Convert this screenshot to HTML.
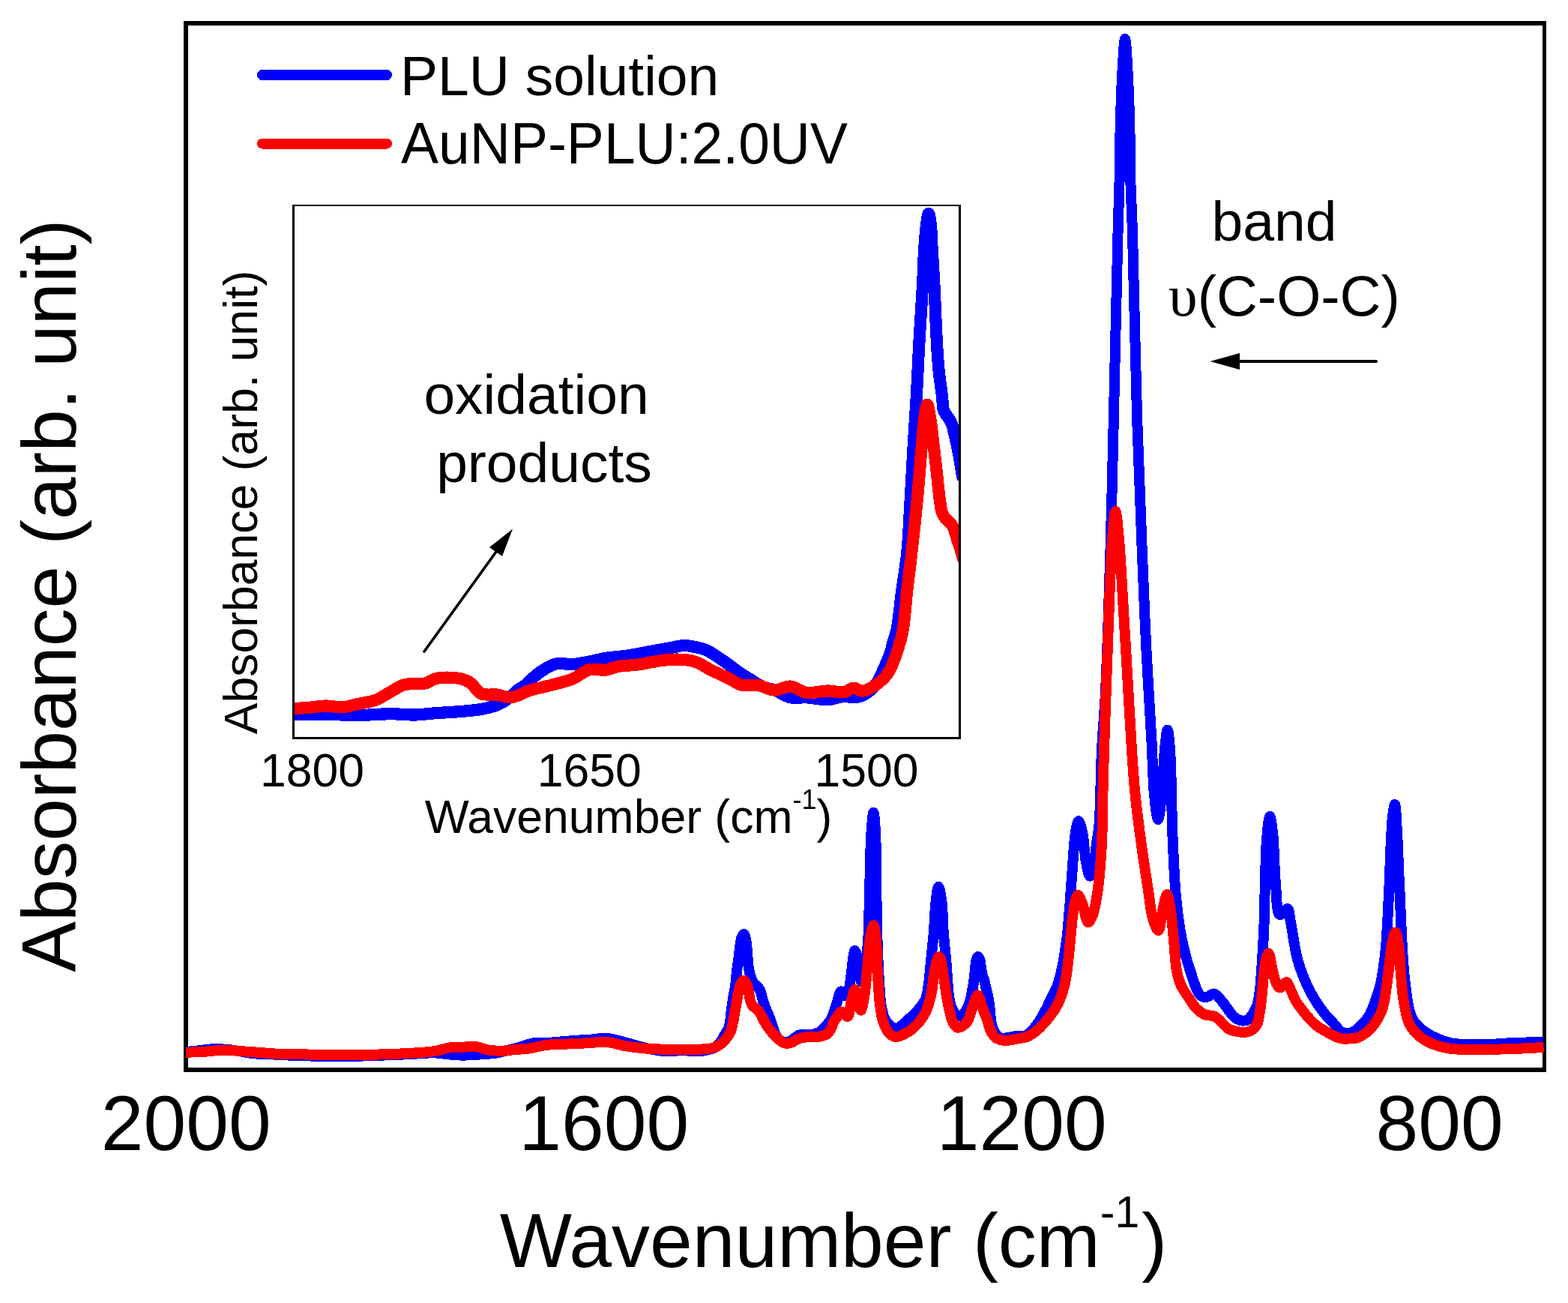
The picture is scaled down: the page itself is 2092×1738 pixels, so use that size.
<!DOCTYPE html>
<html><head><meta charset="utf-8"><title>FTIR</title>
<style>
html,body{margin:0;padding:0;background:#fff;}
svg{display:block;}
text{font-family:"Liberation Sans",Arial,sans-serif;fill:#000;}
</style></head>
<body>
<svg width="2092" height="1738" viewBox="0 0 2092 1738">
<rect x="0" y="0" width="2092" height="1738" fill="#fff"/>
<!-- main frame -->
<g stroke="#000" fill="none"><line x1="245" y1="31" x2="2063" y2="31" stroke-width="6"/><line x1="245" y1="1427" x2="2063" y2="1427" stroke-width="6"/><line x1="248" y1="28" x2="248" y2="1430" stroke-width="6"/><line x1="2060.5" y1="28" x2="2060.5" y2="1430" stroke-width="5"/></g>
<svg x="248" y="0" width="1813" height="1738" viewBox="248 0 1813 1738" overflow="hidden"><g fill="none" stroke-linejoin="round" stroke-linecap="butt" shape-rendering="crispEdges"><path d="M248.0,1403.0 C252.2,1402.6 255.6,1402.4 260.5,1401.9 C267.4,1401.2 277.2,1399.4 285.6,1399.2 C293.9,1399.0 302.3,1399.7 310.6,1400.7 C319.0,1401.7 327.3,1404.1 335.7,1405.0 C344.0,1405.9 352.4,1405.9 360.7,1406.3 C369.1,1406.7 377.4,1407.2 385.8,1407.6 C394.1,1407.9 402.5,1408.1 410.8,1408.4 C419.2,1408.7 427.5,1409.0 435.9,1409.2 C444.2,1409.4 452.6,1409.5 460.9,1409.4 C469.3,1409.3 477.7,1408.7 486.0,1408.4 C494.1,1408.1 501.4,1407.9 510.0,1407.6 C520.0,1407.2 531.4,1406.8 542.6,1406.3 C554.7,1405.8 569.6,1404.1 580.1,1404.4 C587.8,1404.6 593.6,1406.0 600.0,1406.5 C606.1,1407.0 611.3,1407.6 617.7,1407.6 C625.3,1407.6 635.1,1406.8 642.8,1406.3 C649.5,1405.8 655.9,1405.6 661.5,1404.7 C666.1,1404.0 669.4,1402.8 674.0,1401.7 C679.7,1400.3 686.6,1398.6 692.9,1396.9 C699.2,1395.2 705.3,1392.3 711.6,1391.3 C717.8,1390.3 723.7,1391.3 730.4,1390.9 C738.2,1390.5 748.7,1389.3 755.5,1388.8 C760.1,1388.4 762.7,1388.2 767.0,1387.9 C772.3,1387.5 778.5,1387.3 785.0,1386.9 C792.7,1386.4 801.8,1384.4 810.1,1385.0 C818.5,1385.6 826.8,1388.6 835.1,1390.7 C843.5,1392.8 851.8,1395.7 860.2,1397.6 C868.5,1399.5 876.8,1401.4 885.2,1402.0 C893.5,1402.6 901.9,1401.3 910.3,1401.3 C918.6,1401.3 928.4,1402.6 935.3,1402.0 C940.2,1401.6 944.5,1400.4 947.9,1399.4 C950.4,1398.7 952.1,1398.3 954.1,1397.0 C956.5,1395.4 958.9,1392.7 961.0,1390.0 C963.3,1387.1 965.1,1383.4 967.0,1380.0 C968.9,1376.7 971.1,1374.2 972.5,1370.0 C974.6,1363.8 974.9,1353.2 976.0,1345.8 C976.9,1339.6 977.6,1334.0 978.5,1328.7 C979.3,1324.0 980.3,1320.4 981.0,1315.6 C981.9,1309.6 982.3,1301.6 983.0,1295.5 C983.6,1290.4 984.4,1286.3 985.0,1281.4 C985.7,1276.0 986.2,1269.7 987.0,1264.3 C987.7,1259.4 988.2,1253.8 989.5,1250.5 C990.3,1248.5 991.6,1245.9 992.5,1246.0 C993.7,1246.2 994.8,1251.6 995.5,1255.0 C996.4,1259.3 996.5,1264.8 997.0,1270.0 C997.5,1275.7 997.7,1282.5 998.5,1288.0 C999.1,1292.7 999.7,1296.8 1001.0,1301.0 C1002.3,1305.1 1004.3,1310.6 1006.3,1312.8 C1007.5,1314.1 1008.8,1313.8 1010.0,1315.0 C1011.8,1316.8 1014.0,1320.5 1015.1,1323.3 C1016.1,1325.7 1016.2,1328.1 1016.8,1330.5 C1017.5,1333.0 1018.1,1335.3 1019.0,1338.0 C1020.1,1341.2 1021.7,1345.0 1023.1,1348.4 C1024.4,1351.7 1025.8,1354.8 1027.1,1358.3 C1028.5,1362.1 1029.8,1366.7 1031.1,1370.3 C1032.2,1373.4 1033.0,1376.1 1034.3,1378.8 C1035.6,1381.4 1036.9,1384.2 1038.7,1386.0 C1040.2,1387.6 1042.0,1388.8 1044.0,1389.5 C1046.1,1390.2 1048.9,1390.3 1051.0,1390.0 C1052.8,1389.7 1054.2,1389.0 1056.0,1388.0 C1058.7,1386.5 1061.1,1382.5 1065.0,1381.0 C1070.3,1378.9 1080.5,1380.6 1086.0,1379.3 C1089.7,1378.4 1092.3,1377.3 1095.0,1375.5 C1097.7,1373.7 1099.9,1370.9 1102.0,1368.5 C1103.9,1366.4 1105.5,1364.3 1107.0,1362.0 C1108.5,1359.8 1109.7,1357.5 1110.8,1355.0 C1112.0,1352.2 1112.9,1349.2 1114.0,1346.0 C1115.2,1342.5 1116.4,1338.4 1117.4,1335.0 C1118.2,1332.1 1118.6,1329.2 1119.5,1327.0 C1120.2,1325.2 1120.9,1322.8 1122.0,1322.5 C1122.9,1322.2 1124.1,1323.2 1125.0,1324.0 C1126.0,1324.9 1126.5,1327.8 1127.5,1328.0 C1128.4,1328.2 1129.7,1327.1 1130.5,1326.0 C1131.8,1324.3 1132.3,1321.0 1133.0,1318.0 C1133.9,1314.2 1134.4,1309.6 1135.0,1305.0 C1135.7,1299.7 1136.3,1293.5 1137.0,1288.0 C1137.6,1282.8 1138.2,1276.6 1139.0,1273.0 C1139.5,1270.9 1139.9,1268.1 1140.5,1268.0 C1141.1,1268.0 1141.9,1270.2 1142.5,1272.0 C1143.5,1275.0 1144.1,1280.0 1145.0,1285.0 C1146.2,1291.8 1147.5,1308.9 1149.0,1309.0 C1150.4,1309.0 1152.2,1297.1 1153.5,1290.0 C1155.2,1281.1 1156.7,1272.3 1157.8,1259.9 C1159.5,1240.4 1159.4,1209.1 1160.2,1183.9 C1161.0,1159.1 1161.2,1128.3 1162.5,1110.0 C1163.3,1099.1 1164.5,1083.9 1165.4,1083.9 C1166.3,1083.9 1167.4,1099.1 1168.0,1110.0 C1169.1,1128.3 1168.8,1159.1 1169.2,1183.9 C1169.7,1209.1 1169.9,1236.4 1170.7,1259.9 C1171.4,1280.2 1172.3,1301.1 1173.5,1316.8 C1174.3,1327.9 1174.6,1337.1 1176.4,1345.3 C1177.8,1351.7 1179.4,1357.8 1182.0,1362.0 C1183.9,1365.1 1186.5,1367.3 1189.0,1369.0 C1191.3,1370.5 1193.6,1372.3 1196.3,1371.9 C1200.3,1371.3 1205.5,1365.3 1210.0,1361.4 C1214.9,1357.2 1220.4,1352.4 1224.6,1347.4 C1228.6,1342.7 1232.5,1338.2 1234.9,1332.6 C1237.5,1326.5 1237.9,1319.3 1239.0,1311.8 C1240.3,1303.3 1240.8,1294.3 1241.8,1284.2 C1243.0,1271.8 1244.7,1256.6 1245.9,1242.8 C1247.0,1229.0 1247.3,1212.4 1248.7,1201.4 C1249.6,1194.0 1250.8,1183.0 1252.1,1183.0 C1253.4,1183.0 1255.2,1194.0 1256.3,1201.4 C1257.9,1212.4 1257.7,1229.0 1258.7,1242.8 C1259.7,1256.6 1261.5,1271.8 1262.5,1284.2 C1263.3,1294.3 1263.8,1303.3 1264.5,1311.8 C1265.1,1319.2 1265.5,1326.6 1266.6,1332.6 C1267.5,1337.3 1268.4,1341.5 1270.0,1345.0 C1271.3,1347.9 1273.1,1350.7 1275.0,1352.5 C1276.5,1354.0 1278.3,1355.4 1280.0,1355.5 C1281.6,1355.6 1283.5,1354.3 1285.0,1353.0 C1286.9,1351.4 1288.6,1348.6 1290.0,1346.0 C1291.6,1343.0 1292.9,1339.7 1294.0,1336.0 C1295.3,1331.8 1296.1,1326.9 1297.0,1322.0 C1298.0,1316.6 1299.0,1310.4 1299.7,1305.0 C1300.3,1300.1 1300.6,1295.4 1301.1,1291.1 C1301.5,1287.5 1301.7,1283.7 1302.5,1281.0 C1303.0,1279.0 1303.8,1276.1 1304.6,1276.0 C1305.4,1275.9 1306.8,1279.0 1307.5,1281.0 C1308.4,1283.7 1308.5,1287.8 1309.0,1291.0 C1309.5,1294.1 1309.8,1297.2 1310.5,1300.0 C1311.2,1302.5 1312.3,1304.5 1313.0,1307.0 C1313.8,1309.8 1314.3,1312.9 1315.0,1316.0 C1315.8,1319.3 1316.7,1322.4 1317.5,1326.0 C1318.4,1330.2 1319.4,1335.0 1320.0,1339.5 C1320.6,1344.0 1320.8,1348.5 1321.3,1353.0 C1321.8,1357.4 1322.1,1362.1 1323.0,1366.0 C1323.8,1369.3 1324.6,1372.3 1326.0,1375.0 C1327.3,1377.6 1329.0,1380.2 1331.0,1382.0 C1332.8,1383.6 1335.1,1385.2 1337.0,1385.5 C1338.4,1385.7 1339.2,1385.0 1341.0,1384.7 C1344.4,1384.1 1351.1,1382.7 1356.0,1382.0 C1360.7,1381.3 1365.6,1382.7 1370.0,1380.5 C1375.5,1377.8 1381.0,1369.8 1385.0,1364.5 C1388.4,1360.0 1390.3,1355.9 1393.0,1351.0 C1396.0,1345.5 1399.1,1339.0 1402.0,1333.0 C1404.9,1327.0 1408.1,1321.5 1410.5,1315.0 C1413.1,1307.9 1415.1,1299.7 1416.8,1292.0 C1418.5,1284.4 1419.7,1276.7 1420.9,1269.0 C1422.1,1261.3 1423.2,1253.7 1424.1,1246.0 C1424.9,1238.3 1425.4,1230.2 1426.0,1223.0 C1426.5,1216.6 1426.9,1212.5 1427.5,1205.0 C1428.5,1192.6 1429.7,1171.9 1431.0,1155.8 C1432.2,1140.3 1433.1,1121.1 1435.0,1110.0 C1436.1,1103.6 1437.5,1095.0 1439.0,1095.0 C1440.5,1095.0 1442.6,1103.7 1444.0,1110.0 C1446.3,1120.0 1446.9,1139.2 1449.0,1150.0 C1450.5,1157.4 1452.2,1168.5 1454.0,1168.6 C1455.6,1168.7 1457.6,1160.5 1459.0,1155.0 C1461.0,1147.0 1461.7,1134.5 1463.0,1125.0 C1464.2,1116.3 1465.5,1111.1 1466.5,1100.0 C1468.4,1077.8 1468.5,1030.8 1470.0,1000.0 C1471.3,973.6 1473.3,956.9 1474.8,926.6 C1477.3,877.4 1479.6,795.7 1481.5,733.0 C1483.3,673.7 1484.3,622.9 1485.8,560.0 C1487.6,484.5 1489.9,371.1 1491.5,311.0 C1492.4,277.0 1493.3,255.5 1493.8,231.0 C1494.2,210.1 1494.1,193.4 1494.6,173.0 C1495.2,150.1 1496.0,121.8 1497.2,100.0 C1498.2,82.3 1499.7,52.0 1501.0,52.0 C1502.3,52.0 1503.8,82.3 1504.8,100.0 C1506.0,121.8 1506.9,150.1 1507.4,173.0 C1507.9,193.4 1507.5,210.1 1508.0,231.0 C1508.6,255.5 1509.9,277.0 1511.0,311.0 C1512.9,371.0 1514.8,484.5 1517.2,560.0 C1519.2,622.9 1521.6,679.6 1523.7,733.0 C1525.6,779.2 1527.1,819.0 1529.2,862.0 C1531.4,905.0 1534.7,954.7 1536.6,991.0 C1538.0,1017.6 1538.1,1041.2 1540.0,1060.0 C1541.3,1073.0 1543.3,1093.0 1545.0,1093.0 C1546.7,1093.0 1548.6,1072.7 1550.0,1060.0 C1551.9,1043.0 1552.4,1015.9 1554.0,1000.0 C1555.1,989.4 1556.4,973.5 1557.6,973.5 C1558.8,973.5 1560.1,988.0 1561.0,1000.0 C1563.0,1024.9 1563.0,1080.4 1564.5,1115.7 C1565.8,1145.6 1566.8,1173.7 1569.2,1198.5 C1571.2,1218.8 1573.5,1236.8 1577.0,1253.8 C1580.0,1268.6 1583.6,1282.2 1588.0,1295.0 C1592.0,1306.8 1596.5,1323.5 1601.8,1328.0 C1604.4,1330.2 1607.2,1330.3 1610.0,1330.0 C1613.2,1329.7 1616.7,1325.0 1619.8,1325.5 C1623.4,1326.1 1626.5,1331.1 1630.0,1335.0 C1634.7,1340.3 1640.9,1350.9 1645.0,1355.0 C1647.3,1357.3 1648.9,1358.4 1651.0,1359.5 C1652.9,1360.5 1655.0,1361.3 1657.0,1361.5 C1659.0,1361.7 1661.2,1361.7 1663.0,1361.0 C1664.9,1360.3 1666.4,1358.6 1668.0,1357.0 C1669.8,1355.1 1671.5,1352.6 1673.0,1350.0 C1674.7,1347.0 1676.3,1343.9 1677.5,1340.0 C1679.0,1335.1 1679.8,1329.5 1680.7,1322.6 C1682.0,1312.8 1682.7,1299.6 1683.6,1286.6 C1684.6,1271.2 1685.7,1253.4 1686.4,1236.0 C1687.2,1217.6 1687.3,1198.2 1687.9,1179.0 C1688.5,1159.5 1688.6,1136.5 1690.0,1120.0 C1691.0,1108.0 1692.8,1089.0 1694.3,1089.0 C1695.5,1089.0 1696.9,1100.9 1698.0,1110.0 C1699.9,1126.5 1700.2,1159.9 1702.0,1180.0 C1703.4,1195.2 1703.2,1217.8 1707.0,1220.0 C1708.4,1220.8 1710.4,1219.1 1712.0,1218.0 C1714.0,1216.6 1716.3,1211.6 1717.8,1212.0 C1720.1,1212.6 1720.4,1222.4 1722.0,1230.0 C1724.7,1242.7 1726.9,1265.4 1731.6,1281.4 C1735.9,1296.2 1741.9,1310.7 1748.2,1322.8 C1753.6,1333.2 1760.1,1342.7 1766.0,1350.4 C1770.7,1356.6 1775.7,1361.3 1780.0,1366.0 C1783.6,1369.9 1786.5,1374.6 1790.0,1376.5 C1792.6,1377.9 1795.3,1378.1 1798.0,1378.0 C1800.7,1377.9 1803.3,1377.4 1806.0,1376.0 C1809.5,1374.2 1813.5,1370.3 1816.8,1367.0 C1820.2,1363.7 1823.5,1360.0 1826.0,1356.0 C1828.5,1352.0 1830.1,1347.7 1832.0,1343.0 C1834.1,1337.8 1836.3,1331.4 1838.0,1326.0 C1839.6,1321.1 1840.7,1318.0 1842.0,1312.0 C1844.3,1301.6 1846.9,1283.1 1848.5,1268.6 C1850.1,1254.1 1850.6,1239.6 1851.4,1225.0 C1852.2,1210.4 1852.8,1197.1 1853.5,1181.0 C1854.4,1161.2 1855.2,1132.7 1856.2,1115.0 C1856.9,1103.0 1857.4,1092.7 1858.5,1085.0 C1859.2,1080.1 1860.3,1073.0 1861.0,1073.0 C1862.3,1073.1 1863.1,1095.7 1864.0,1110.0 C1865.2,1129.9 1865.7,1153.9 1867.1,1181.2 C1869.0,1218.3 1870.4,1279.5 1874.8,1312.3 C1877.5,1332.3 1878.8,1348.7 1885.0,1360.0 C1889.3,1367.9 1894.8,1372.0 1902.0,1376.8 C1910.8,1382.7 1923.0,1388.2 1935.0,1391.0 C1948.3,1394.1 1964.3,1393.2 1978.6,1393.2 C1992.6,1393.2 2006.4,1391.5 2020.0,1391.0 C2033.3,1390.5 2046.3,1390.3 2059.5,1390.0" stroke="#0000ff" stroke-width="14.0"/><path d="M248.0,1403.8 C256.3,1403.4 264.7,1403.2 273.0,1402.7 C281.3,1402.2 289.7,1400.8 298.0,1400.7 C306.3,1400.6 314.7,1401.6 323.0,1402.2 C331.3,1402.8 339.7,1403.5 348.0,1404.1 C356.3,1404.7 364.7,1405.5 373.0,1405.9 C381.3,1406.3 389.7,1406.3 398.0,1406.4 C406.3,1406.5 414.7,1406.5 423.0,1406.6 C431.3,1406.7 439.7,1406.9 448.0,1406.9 C456.3,1406.9 464.2,1406.9 473.0,1406.8 C483.0,1406.7 493.9,1406.8 505.0,1406.5 C517.0,1406.2 530.1,1405.8 542.6,1405.1 C555.1,1404.4 569.8,1403.7 580.1,1402.1 C587.5,1400.9 592.6,1398.5 598.9,1397.6 C605.1,1396.7 611.4,1396.8 617.7,1396.6 C624.0,1396.4 630.9,1395.6 636.5,1396.4 C641.1,1397.0 644.4,1399.2 649.0,1400.1 C654.6,1401.2 661.5,1401.8 667.8,1401.8 C674.1,1401.8 680.3,1400.7 686.6,1400.1 C692.9,1399.6 698.7,1399.4 705.4,1398.5 C713.2,1397.4 721.7,1394.8 730.4,1393.8 C739.8,1392.7 750.5,1392.9 760.0,1392.4 C768.7,1392.0 776.7,1391.6 785.0,1391.2 C793.4,1390.8 801.8,1389.3 810.1,1390.0 C818.5,1390.7 826.7,1393.9 835.1,1395.3 C843.4,1396.7 851.8,1397.7 860.2,1398.4 C868.5,1399.1 876.9,1399.4 885.2,1399.7 C893.6,1400.0 901.9,1400.3 910.3,1400.3 C918.6,1400.3 927.6,1400.3 935.3,1399.6 C942.0,1399.0 948.7,1399.0 954.1,1396.9 C958.9,1395.0 963.1,1391.7 966.6,1388.2 C970.0,1384.7 972.5,1381.2 974.7,1376.0 C977.9,1368.4 979.4,1354.9 981.2,1345.8 C982.6,1338.4 983.4,1331.6 984.7,1325.7 C985.7,1321.0 986.6,1316.2 988.0,1313.0 C989.0,1310.8 990.1,1307.9 991.3,1307.7 C992.3,1307.5 993.6,1308.9 994.5,1310.0 C995.7,1311.4 996.5,1313.4 997.3,1315.6 C998.3,1318.4 998.6,1322.3 999.3,1325.7 C1000.0,1329.1 1000.4,1332.9 1001.4,1335.8 C1002.2,1338.1 1003.0,1340.1 1004.4,1341.8 C1005.7,1343.4 1007.8,1344.2 1009.4,1345.8 C1011.2,1347.5 1012.8,1349.5 1014.4,1351.9 C1016.3,1354.8 1017.7,1358.9 1019.5,1362.0 C1021.1,1364.9 1022.7,1367.4 1024.5,1370.0 C1026.4,1372.7 1028.4,1375.5 1030.6,1378.0 C1032.8,1380.5 1035.1,1382.8 1037.6,1385.0 C1040.1,1387.2 1042.8,1390.1 1045.7,1391.1 C1048.5,1392.0 1051.7,1391.8 1054.7,1391.1 C1058.1,1390.3 1060.8,1387.1 1065.0,1385.7 C1070.6,1383.8 1081.7,1382.6 1086.0,1382.5 C1087.9,1382.5 1088.5,1383.0 1090.0,1383.0 C1091.9,1383.0 1094.3,1382.6 1096.4,1382.0 C1098.6,1381.4 1100.9,1380.9 1102.8,1379.6 C1104.9,1378.1 1106.8,1375.6 1108.4,1373.0 C1110.2,1370.0 1110.9,1365.4 1112.5,1362.5 C1113.7,1360.3 1115.1,1359.0 1116.5,1357.0 C1118.2,1354.7 1120.1,1349.9 1122.0,1349.5 C1123.3,1349.2 1124.6,1351.0 1126.0,1352.0 C1127.6,1353.1 1129.4,1356.3 1130.8,1355.8 C1133.4,1354.9 1134.3,1341.3 1136.0,1335.0 C1137.5,1329.6 1139.0,1320.0 1140.5,1320.0 C1141.7,1320.0 1142.8,1326.2 1144.0,1330.0 C1145.5,1335.0 1147.0,1347.7 1148.5,1347.7 C1150.0,1347.7 1151.7,1337.5 1153.0,1330.0 C1155.2,1317.4 1156.7,1294.1 1158.3,1278.8 C1159.6,1266.4 1160.3,1253.1 1162.0,1245.0 C1163.0,1240.3 1164.4,1234.1 1165.4,1234.2 C1166.6,1234.3 1167.7,1243.2 1168.5,1250.0 C1170.0,1262.0 1170.0,1284.3 1171.0,1300.0 C1171.9,1314.1 1172.6,1328.7 1174.0,1340.0 C1175.1,1348.5 1175.8,1355.4 1178.0,1362.0 C1180.0,1367.9 1182.7,1374.4 1186.0,1378.0 C1188.4,1380.6 1191.1,1382.7 1194.4,1383.0 C1198.9,1383.4 1205.7,1379.9 1210.7,1377.0 C1215.8,1374.1 1220.5,1369.9 1224.5,1365.5 C1228.6,1361.0 1232.1,1356.0 1235.0,1350.0 C1238.3,1343.0 1240.6,1334.1 1242.5,1325.7 C1244.5,1316.8 1244.9,1305.8 1246.3,1298.0 C1247.3,1292.2 1248.2,1287.0 1249.5,1283.0 C1250.5,1280.2 1251.7,1276.0 1252.8,1276.0 C1253.9,1276.0 1255.2,1280.3 1256.0,1283.0 C1257.0,1286.4 1257.1,1289.7 1258.0,1295.0 C1259.6,1305.2 1262.2,1327.3 1265.0,1340.0 C1267.1,1349.6 1269.0,1359.8 1272.0,1365.0 C1273.7,1367.9 1275.4,1370.5 1277.8,1370.8 C1281.0,1371.2 1286.9,1367.1 1290.0,1363.4 C1293.7,1359.0 1294.6,1351.1 1297.0,1345.0 C1299.4,1339.0 1302.6,1327.3 1304.5,1327.2 C1305.5,1327.2 1306.2,1330.2 1307.0,1332.0 C1307.9,1334.2 1308.5,1336.8 1309.4,1339.5 C1310.5,1342.7 1311.7,1346.5 1313.0,1350.0 C1314.3,1353.4 1315.7,1356.5 1317.0,1360.2 C1318.5,1364.4 1319.4,1369.9 1321.4,1374.0 C1323.2,1377.7 1325.4,1381.8 1328.0,1384.0 C1330.1,1385.7 1332.5,1386.3 1335.0,1387.0 C1337.5,1387.7 1339.8,1388.0 1343.0,1387.9 C1347.6,1387.8 1355.1,1385.9 1360.0,1385.0 C1363.8,1384.3 1366.7,1384.3 1370.0,1383.0 C1373.8,1381.5 1377.8,1378.8 1381.5,1376.0 C1385.5,1372.9 1389.3,1369.1 1393.0,1365.0 C1397.0,1360.6 1401.2,1355.3 1404.5,1350.5 C1407.4,1346.3 1409.7,1342.9 1412.0,1338.0 C1415.0,1331.6 1418.0,1322.7 1420.0,1315.0 C1422.0,1307.4 1422.9,1299.7 1424.0,1292.0 C1425.1,1284.4 1425.7,1276.7 1426.5,1269.0 C1427.3,1261.3 1428.0,1253.7 1428.7,1246.0 C1429.5,1238.3 1430.0,1230.2 1431.0,1223.0 C1431.9,1216.6 1432.6,1210.2 1434.0,1205.0 C1435.1,1200.8 1436.4,1194.1 1438.0,1194.0 C1439.7,1193.9 1442.1,1200.5 1444.0,1205.0 C1446.8,1211.6 1448.9,1229.9 1451.8,1230.3 C1453.7,1230.5 1456.2,1224.6 1458.0,1220.0 C1461.0,1212.4 1462.8,1200.3 1464.6,1187.7 C1467.1,1170.1 1468.9,1145.2 1470.0,1123.9 C1471.1,1102.6 1470.9,1081.0 1471.4,1060.0 C1471.9,1039.7 1472.3,1022.8 1473.0,1000.0 C1473.9,969.7 1475.5,928.8 1476.7,894.4 C1477.9,861.5 1478.9,828.2 1480.2,797.7 C1481.4,770.4 1482.3,741.3 1484.0,720.0 C1485.2,705.1 1486.8,682.0 1488.3,682.0 C1489.8,682.0 1491.6,705.1 1493.0,720.0 C1495.0,741.3 1496.3,770.4 1498.0,797.7 C1499.9,828.2 1501.8,861.5 1503.8,894.4 C1505.8,928.8 1508.0,969.7 1510.0,1000.0 C1511.5,1022.8 1512.6,1039.7 1514.6,1060.0 C1516.7,1081.0 1519.6,1102.6 1522.5,1123.9 C1525.4,1145.2 1529.1,1169.3 1532.0,1187.7 C1534.2,1201.8 1535.0,1215.3 1538.0,1225.0 C1540.0,1231.6 1543.5,1241.2 1545.5,1241.0 C1548.0,1240.7 1549.0,1223.3 1551.0,1215.0 C1552.9,1207.3 1555.2,1193.0 1557.0,1193.0 C1558.8,1193.0 1560.6,1206.6 1562.0,1215.0 C1563.8,1226.1 1564.7,1240.7 1566.0,1253.8 C1567.4,1267.4 1567.8,1284.0 1570.0,1295.2 C1571.6,1303.1 1573.3,1309.1 1576.0,1315.0 C1578.5,1320.4 1581.9,1324.8 1585.2,1329.7 C1588.6,1334.8 1592.0,1340.9 1596.0,1345.0 C1599.5,1348.5 1603.1,1351.4 1607.3,1353.2 C1611.5,1355.0 1616.4,1353.7 1621.1,1356.0 C1627.4,1359.1 1633.3,1369.7 1640.5,1373.1 C1647.2,1376.3 1657.2,1377.2 1662.6,1376.7 C1665.8,1376.4 1667.7,1375.6 1670.0,1374.0 C1672.7,1372.2 1675.6,1369.1 1677.3,1365.7 C1679.3,1361.8 1679.6,1356.6 1680.6,1351.3 C1681.8,1344.9 1682.6,1337.5 1683.4,1329.8 C1684.4,1320.9 1685.0,1309.8 1686.0,1301.0 C1686.9,1293.4 1687.6,1285.4 1689.0,1280.0 C1689.9,1276.5 1691.3,1271.4 1692.4,1271.5 C1694.3,1271.6 1696.1,1287.8 1698.0,1295.0 C1699.6,1301.1 1700.8,1308.1 1703.0,1312.0 C1704.5,1314.6 1706.1,1317.4 1708.1,1317.5 C1710.5,1317.6 1714.2,1309.7 1716.4,1310.0 C1718.4,1310.3 1719.6,1315.2 1721.0,1318.0 C1722.5,1320.9 1723.6,1323.9 1725.0,1327.0 C1726.5,1330.3 1728.2,1334.0 1730.0,1337.0 C1731.6,1339.6 1733.3,1341.7 1735.0,1344.0 C1736.6,1346.2 1738.3,1348.4 1740.0,1350.5 C1741.7,1352.6 1743.3,1354.7 1745.0,1356.7 C1746.6,1358.6 1748.3,1360.3 1750.0,1362.0 C1751.6,1363.6 1753.3,1365.3 1755.0,1366.7 C1756.6,1368.1 1758.3,1369.3 1760.0,1370.5 C1761.6,1371.6 1763.2,1372.4 1765.0,1373.5 C1767.1,1374.7 1769.6,1376.2 1772.0,1377.5 C1774.6,1378.9 1777.1,1380.4 1780.0,1381.7 C1783.1,1383.1 1786.7,1384.7 1790.0,1385.3 C1793.1,1385.9 1796.2,1385.6 1799.4,1385.5 C1802.8,1385.4 1806.3,1385.7 1810.0,1384.5 C1814.9,1382.9 1820.7,1379.6 1825.6,1375.0 C1831.9,1369.0 1838.7,1359.9 1843.0,1349.5 C1848.5,1336.2 1849.6,1315.7 1852.0,1300.0 C1854.1,1286.0 1854.9,1270.4 1857.0,1260.0 C1858.4,1253.2 1860.2,1243.5 1861.7,1243.5 C1863.2,1243.5 1864.9,1253.2 1866.0,1260.0 C1867.7,1270.4 1867.8,1287.2 1869.0,1300.0 C1870.1,1311.8 1870.7,1323.0 1872.6,1334.0 C1874.4,1344.6 1876.2,1356.8 1880.0,1365.0 C1882.9,1371.3 1886.5,1375.6 1891.2,1380.0 C1896.3,1384.8 1903.0,1388.9 1910.0,1392.0 C1917.5,1395.3 1925.4,1397.3 1935.0,1398.7 C1947.4,1400.5 1964.3,1399.8 1978.6,1399.8 C1992.6,1399.8 2006.4,1399.5 2020.0,1399.0 C2033.3,1398.5 2046.3,1397.7 2059.5,1397.0" stroke="#ff0000" stroke-width="14.0"/></g></svg>
<!-- legend -->
<line x1="350" y1="100" x2="516" y2="100" stroke="#0000ff" stroke-width="14" stroke-linecap="round" shape-rendering="crispEdges"/>
<line x1="350" y1="191.5" x2="516" y2="191.5" stroke="#ff0000" stroke-width="14" stroke-linecap="round" shape-rendering="crispEdges"/>
<text x="534" y="126.5" font-size="75">PLU solution</text>
<text x="535" y="218" font-size="75" transform="translate(0,218) scale(1,1.03) translate(0,-218)">AuNP-PLU:2.0UV</text>
<!-- tick labels -->
<g font-size="102" text-anchor="middle" transform="translate(0,1534) scale(1,1.025) translate(0,-1534)">
<text x="248.3" y="1534">2000</text>
<text x="805.7" y="1534">1600</text>
<text x="1363.2" y="1534">1200</text>
<text x="1920.6" y="1534">800</text>
</g>
<text x="1112" y="1690.4" font-size="102" text-anchor="middle">Wavenumber (cm<tspan font-size="59" dy="-53">-1</tspan><tspan dy="53" dx="3">)</tspan></text>
<text transform="translate(101,794.5) rotate(-90)" font-size="101.5" text-anchor="middle">Absorbance (arb. unit)</text>
<!-- annotations -->
<text x="1700" y="321" font-size="75" text-anchor="middle">band</text>
<text x="1559" y="420.6" font-size="76"><tspan font-family="Liberation Serif" font-size="78">υ</tspan>(C-O-C)</text>
<line x1="1650" y1="482" x2="1836" y2="482" stroke="#000" stroke-width="4" stroke-linecap="round"/>
<polygon points="1614.5,482 1654,471 1654,493" fill="#000"/>
<!-- inset -->
<rect x="391.5" y="274" width="889" height="710.5" fill="#fff"/><g stroke="#000" fill="none"><line x1="390" y1="274" x2="1282" y2="274" stroke-width="2"/><line x1="390" y1="984.5" x2="1282" y2="984.5" stroke-width="3"/><line x1="391.5" y1="273" x2="391.5" y2="986" stroke-width="3"/><line x1="1280.5" y1="273" x2="1280.5" y2="986" stroke-width="3"/></g>
<svg x="393" y="275" width="886" height="708" viewBox="393 275 886 708" overflow="hidden"><g fill="none" stroke-linejoin="round" stroke-linecap="butt" shape-rendering="crispEdges"><path d="M393.0,953.4 C399.3,953.3 405.4,953.1 412.0,953.0 C419.2,952.9 427.1,952.5 434.5,952.6 C441.7,952.7 448.7,953.2 456.0,953.5 C463.5,953.8 471.4,954.5 478.9,954.4 C486.1,954.3 492.8,953.3 500.0,953.0 C507.6,952.6 515.1,952.3 523.4,952.3 C532.7,952.3 543.1,953.7 553.0,953.5 C562.9,953.3 572.7,951.8 582.6,951.1 C592.5,950.4 602.4,950.0 612.3,949.2 C622.2,948.3 632.8,947.7 641.9,946.0 C649.9,944.5 657.7,942.8 664.2,940.0 C669.8,937.6 674.6,934.4 679.0,931.1 C683.1,928.0 686.2,923.7 690.0,920.8 C693.4,918.1 696.5,917.0 700.4,914.1 C706.0,909.9 712.6,901.9 719.6,897.1 C726.5,892.4 734.2,887.3 741.9,885.5 C749.1,883.8 756.7,886.6 764.1,886.1 C771.5,885.6 778.9,883.9 786.3,882.5 C793.7,881.1 800.6,879.1 808.6,877.8 C817.7,876.3 828.4,875.9 838.2,874.4 C848.1,872.9 857.9,870.7 867.8,868.9 C877.7,867.1 889.3,865.1 897.5,863.6 C903.3,862.6 907.4,861.1 912.3,861.0 C917.2,860.9 922.2,862.0 927.1,863.0 C932.1,864.0 936.6,864.7 941.9,867.0 C948.8,870.0 956.9,875.9 964.2,880.8 C971.7,885.9 981.2,893.3 986.4,897.0 C989.2,899.0 990.7,900.1 993.0,901.5 C995.3,902.9 997.4,903.9 1000.0,905.5 C1003.4,907.6 1007.7,910.9 1011.5,913.0 C1015.0,914.9 1018.4,916.3 1022.0,917.5 C1025.6,918.7 1028.8,918.8 1033.0,920.3 C1039.1,922.5 1047.1,928.7 1054.5,930.3 C1061.5,931.8 1068.3,929.9 1076.0,930.3 C1084.9,930.7 1095.9,933.6 1104.7,933.2 C1112.4,932.8 1119.7,929.2 1126.2,928.9 C1131.5,928.6 1135.9,930.9 1140.6,930.3 C1145.5,929.7 1150.5,928.1 1155.0,925.3 C1160.1,922.2 1165.3,917.2 1169.3,911.7 C1173.8,905.6 1176.7,897.3 1180.0,890.0 C1183.2,882.9 1186.7,874.8 1188.6,868.7 C1190.0,864.2 1190.2,861.1 1191.4,856.8 C1192.8,851.7 1195.0,847.2 1196.5,840.0 C1199.1,827.8 1200.7,807.0 1203.0,790.0 C1205.4,772.3 1208.5,755.1 1210.4,736.0 C1212.5,714.4 1213.3,690.0 1214.7,667.0 C1216.0,644.0 1217.2,621.0 1218.5,598.0 C1219.9,575.0 1221.5,552.0 1222.8,529.0 C1224.1,506.0 1225.1,480.5 1226.2,460.0 C1227.1,443.6 1228.0,429.6 1228.9,415.6 C1229.7,403.0 1230.4,392.5 1231.1,379.7 C1231.9,364.9 1232.3,346.1 1233.2,331.8 C1234.0,320.1 1234.8,308.6 1236.0,300.0 C1236.8,294.0 1237.9,285.0 1238.9,285.0 C1239.9,285.0 1241.1,294.0 1241.8,300.0 C1242.9,308.6 1242.9,320.1 1243.6,331.8 C1244.4,346.1 1245.6,364.9 1246.4,379.7 C1247.1,392.5 1247.4,403.0 1248.0,415.6 C1248.6,429.6 1249.3,446.1 1250.1,460.0 C1250.8,472.2 1251.5,483.0 1252.6,494.5 C1253.8,506.0 1255.9,519.5 1257.0,529.0 C1257.8,535.7 1257.5,542.0 1258.7,546.3 C1259.5,549.1 1260.7,551.0 1262.0,553.0 C1263.2,554.9 1264.8,556.1 1266.0,558.0 C1267.5,560.3 1268.9,562.9 1270.0,566.0 C1271.4,569.7 1272.2,574.0 1273.4,579.0 C1275.0,585.8 1277.1,595.7 1278.6,603.3 C1279.9,610.0 1280.9,616.1 1282.0,622.3 C1283.0,628.3 1284.0,634.1 1285.0,640.0" stroke="#0000ff" stroke-width="16.2"/><path d="M393.0,945.0 C399.4,944.6 405.6,944.4 412.2,943.9 C419.4,943.3 427.1,941.6 434.5,941.5 C441.9,941.4 449.3,943.8 456.7,943.4 C464.1,943.0 471.5,940.4 478.9,938.8 C486.3,937.2 493.9,936.4 501.1,933.7 C508.7,930.8 516.7,925.1 523.4,921.5 C528.8,918.6 533.1,915.3 538.2,913.7 C543.0,912.2 548.1,912.3 553.0,911.9 C557.9,911.5 563.0,912.5 567.8,911.4 C572.8,910.2 576.7,906.1 582.6,904.8 C590.6,903.1 604.2,903.3 612.3,904.8 C618.2,905.9 622.5,907.4 627.1,910.4 C632.4,913.8 635.9,922.5 641.9,925.2 C648.1,928.0 657.6,925.7 664.2,926.7 C669.7,927.6 674.4,930.3 679.0,930.4 C682.9,930.5 686.1,929.4 690.0,928.2 C694.6,926.7 698.9,923.5 704.8,921.5 C712.9,918.7 724.6,916.8 734.5,914.1 C744.4,911.4 755.1,909.2 764.1,905.5 C772.2,902.1 778.6,895.2 786.3,893.3 C793.5,891.5 802.0,894.5 808.6,893.6 C814.1,892.8 817.6,890.4 823.4,889.2 C831.5,887.6 843.1,887.6 853.0,886.2 C862.9,884.8 873.5,882.1 882.7,881.0 C890.6,880.1 897.5,879.4 904.9,879.6 C912.3,879.8 919.9,880.2 927.1,882.5 C934.7,884.9 941.8,890.4 949.3,894.1 C956.7,897.7 964.6,901.1 971.6,904.5 C978.1,907.7 983.4,912.3 990.0,913.9 C996.7,915.5 1004.4,913.0 1011.5,914.1 C1018.7,915.2 1025.8,920.4 1033.0,920.6 C1040.1,920.8 1047.4,915.1 1054.5,915.6 C1061.7,916.1 1068.2,922.8 1076.0,923.9 C1084.7,925.2 1095.8,921.5 1104.7,921.5 C1112.4,921.5 1120.0,924.2 1126.2,923.2 C1131.2,922.4 1134.9,917.8 1139.1,917.7 C1143.0,917.6 1146.3,921.9 1150.6,921.7 C1156.1,921.4 1163.7,917.0 1169.3,913.1 C1175.2,909.0 1180.6,903.9 1185.0,897.4 C1190.2,889.7 1193.9,878.4 1197.2,868.7 C1200.4,859.3 1202.7,851.0 1204.7,840.0 C1207.3,825.7 1208.1,807.0 1210.0,790.0 C1212.0,772.4 1214.3,755.3 1216.4,736.2 C1218.8,714.6 1221.5,690.1 1223.7,667.1 C1225.9,644.1 1227.8,617.6 1229.5,598.0 C1230.8,583.5 1231.4,570.7 1233.0,560.0 C1234.2,552.1 1235.7,539.7 1237.1,539.7 C1238.5,539.7 1240.2,552.1 1241.5,560.0 C1243.3,570.7 1244.6,585.6 1246.1,598.0 C1247.5,609.8 1248.8,621.1 1250.1,632.6 C1251.4,644.1 1252.5,657.6 1253.9,667.1 C1254.9,673.9 1255.2,679.9 1257.0,684.4 C1258.3,687.6 1260.2,689.8 1262.0,692.0 C1263.6,693.9 1265.4,695.2 1267.0,697.0 C1268.6,698.8 1270.1,700.1 1271.5,702.6 C1273.5,706.4 1274.9,713.0 1276.6,718.2 C1278.3,723.4 1280.2,728.6 1281.8,733.7 C1283.3,738.5 1284.6,743.2 1286.0,748.0" stroke="#ff0000" stroke-width="16.2"/></g></svg>
<g font-size="62.5" text-anchor="middle">
<text x="416.6" y="1049">1800</text>
<text x="786.2" y="1049">1650</text>
<text x="1155.9" y="1049">1500</text>
</g>
<text x="838.5" y="1110.7" font-size="62.5" text-anchor="middle">Wavenumber (cm<tspan font-size="36" dy="-32">-1</tspan><tspan dy="32">)</tspan></text>
<text transform="translate(343,670) rotate(-90)" font-size="62.5" text-anchor="middle">Absorbance (arb. unit)</text>
<text x="715.5" y="552.3" font-size="75" text-anchor="middle">oxidation</text>
<text x="726" y="643.2" font-size="75" text-anchor="middle">products</text>
<line x1="566" y1="869" x2="672" y2="722" stroke="#000" stroke-width="3.6" stroke-linecap="round"/>
<polygon points="684,705.5 653,730 670,742" fill="#000"/>
</svg>
</body></html>
